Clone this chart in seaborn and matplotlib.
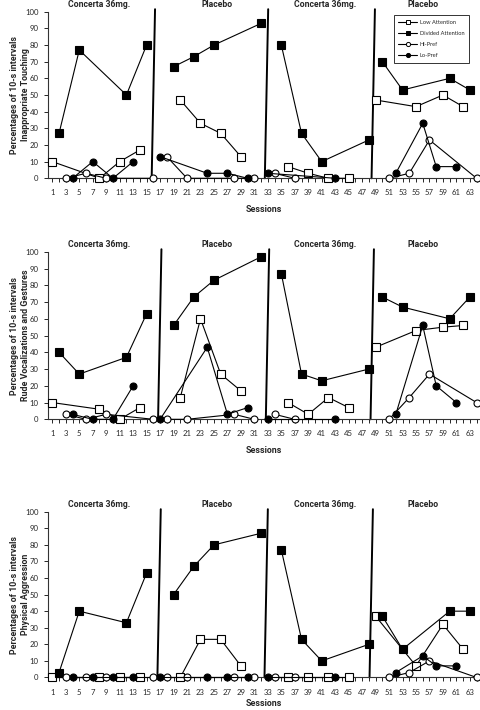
import numpy as np
import pandas as pd
import matplotlib
matplotlib.use('Agg')
import matplotlib.pyplot as plt
from matplotlib.lines import Line2D
import seaborn as sns

# session numbers for each condition (same in all three panels)
low_att_sessions = [1, 8, 11, 14, 20, 23, 26, 29, 36, 39, 42, 45, 49, 55, 59, 62]
div_att_sessions = [2, 5, 12, 15, 19, 22, 25, 32, 35, 38, 41, 48, 50, 53, 60, 63]
hi_pref_sessions = [3, 6, 9, 16, 18, 21, 28, 31, 34, 37, 51, 54, 57, 64]
lo_pref_sessions = [4, 7, 10, 13, 17, 24, 27, 30, 33, 43, 52, 56, 58, 61]

# inappropriate touching
touch_low = [10, 0, 10, 17, 47, 33, 27, 13, 7, 3, 0, 0, 47, 43, 50, 43]
touch_div = [27, 77, 50, 80, 67, 73, 80, 93, 80, 27, 10, 23, 70, 53, 60, 53]
touch_hi = [0, 3, 0, 0, 13, 0, 0, 0, 3, 0, 0, 3, 23, 0]
touch_lo = [0, 10, 0, 10, 13, 3, 3, 0, 3, 0, 3, 33, 7, 7]

# rude vocalizations and gestures
rude_low = [10, 6, 0, 7, 13, 60, 27, 17, 10, 3, 13, 7, 43, 53, 55, 56]
rude_div = [40, 27, 37, 63, 56, 73, 83, 97, 87, 27, 23, 30, 73, 67, 60, 73]
rude_hi = [3, 0, 3, 0, 0, 0, 3, 0, 3, 0, 0, 13, 27, 10]
rude_lo = [3, 0, 0, 20, 0, 43, 3, 7, 0, 0, 3, 56, 20, 10]

# physical aggression
aggr_low = [0, 0, 0, 0, 0, 23, 23, 7, 0, 0, 0, 0, 37, 7, 32, 17]
aggr_div = [3, 40, 33, 63, 50, 67, 80, 87, 77, 23, 10, 20, 37, 17, 40, 40]
aggr_hi = [0, 0, 0, 0, 0, 0, 0, 0, 0, 0, 0, 3, 10, 0]
aggr_lo = [0, 0, 0, 0, 0, 0, 0, 0, 0, 0, 3, 13, 7, 7]

series_names = ['Low Attention', 'Divided Attention', 'Hi-Pref', 'Lo-Pref']
phase_changes = [16.5, 32.5, 48.5]
phase_names = ['Concerta 36mg.', 'Placebo', 'Concerta 36mg.', 'Placebo']
behaviours = ['Inappropriate Touching', 'Rude Vocalizations and Gestures',
              'Physical Aggression']

panel_values = [
    [touch_low, touch_div, touch_hi, touch_lo],
    [rude_low, rude_div, rude_hi, rude_lo],
    [aggr_low, aggr_div, aggr_hi, aggr_lo],
]
series_sessions = [low_att_sessions, div_att_sessions, hi_pref_sessions, lo_pref_sessions]

sns.set_style('ticks')
plt.rcParams['font.family'] = ['Lato', 'DejaVu Sans']
bold_font = ['Roboto', 'DejaVu Sans']

# marker style per condition
markers = ['s', 's', 'o', 'o']
faces = ['white', 'black', 'white', 'black']
msizes = [5.5, 5.5, 5.0, 5.0]

# hand drawn phase lines sit a little differently in each panel
phase_line_pos = [[16.0, 32.8, 48.65], [16.95, 32.95, 48.5], [16.85, 32.75, 48.35]]
title_pos = [8, 25.5, 41.5, 56]

fig = plt.figure(figsize=(4.81, 7.10), dpi=100)
bottoms = [0.7489, 0.4094, 0.0458]
heights = [0.2346, 0.2360, 0.2335]
xlabel_pads = [6, 6, 2.5]

for p in range(3):
    ax = fig.add_axes([0.1004, bottoms[p], 0.8975, heights[p]])
    for i, name in enumerate(series_names):
        df = pd.DataFrame({'session': series_sessions[i], 'value': panel_values[p][i]})
        df['phase'] = np.searchsorted(phase_changes, df['session'])
        sns.lineplot(data=df, x='session', y='value', units='phase', estimator=None,
                     color='black', marker=markers[i], markerfacecolor=faces[i],
                     markeredgecolor='black', markeredgewidth=0.8,
                     markersize=msizes[i], linewidth=0.8, clip_on=False,
                     zorder=3, legend=False, ax=ax)

    for xm in phase_line_pos[p]:
        ax.plot([xm - 0.25, xm + 0.25], [0, 101.5], color='black', lw=1.4,
                clip_on=False, zorder=2)

    for xt, txt in zip(title_pos, phase_names):
        ax.text(xt, 104.5, txt, ha='center', va='center', fontsize=6.2,
                fontweight='bold', family=bold_font, clip_on=False)

    ax.set_xlim(0.4, 64.5)
    ax.set_ylim(0, 100)
    ax.set_xticks(range(1, 65))
    ax.set_xticklabels([str(s) if s % 2 == 1 else '' for s in range(1, 65)])
    ax.set_yticks(range(0, 101, 10))
    ax.tick_params(axis='x', direction='out', length=3, width=0.7, labelsize=5.6, pad=5)
    ax.tick_params(axis='y', direction='out', length=3, width=0.7, labelsize=5.6, pad=4)
    sns.despine(ax=ax)
    for sp in ['left', 'bottom']:
        ax.spines[sp].set_linewidth(0.8)
        ax.spines[sp].set_color('#333333')
    ax.set_xlabel('Sessions', fontsize=6.4, fontweight='bold', family=bold_font,
                  labelpad=xlabel_pads[p])
    ax.set_ylabel('Percentages of 10-s intervals\n' + behaviours[p], fontsize=6.4,
                  fontweight='bold', family=bold_font, linespacing=1.35)
    ax.yaxis.set_label_coords(-0.042, 0.5)

    if p == 0:
        handles = [Line2D([], [], color='black', marker=markers[i], markerfacecolor=faces[i],
                          markeredgecolor='black', markersize=msizes[i] * 0.6, lw=0.8,
                          markeredgewidth=0.7)
                   for i in range(4)]
        leg = ax.legend(handles, series_names, loc='upper left',
                        bbox_to_anchor=(0.794, 0.997), fontsize=4.1, frameon=True,
                        fancybox=False, edgecolor='black', handlelength=3.2,
                        labelspacing=1.1, borderpad=0.8, handletextpad=0.5)
        leg.get_frame().set_linewidth(0.7)

fig.savefig('out.png', dpi=100)
